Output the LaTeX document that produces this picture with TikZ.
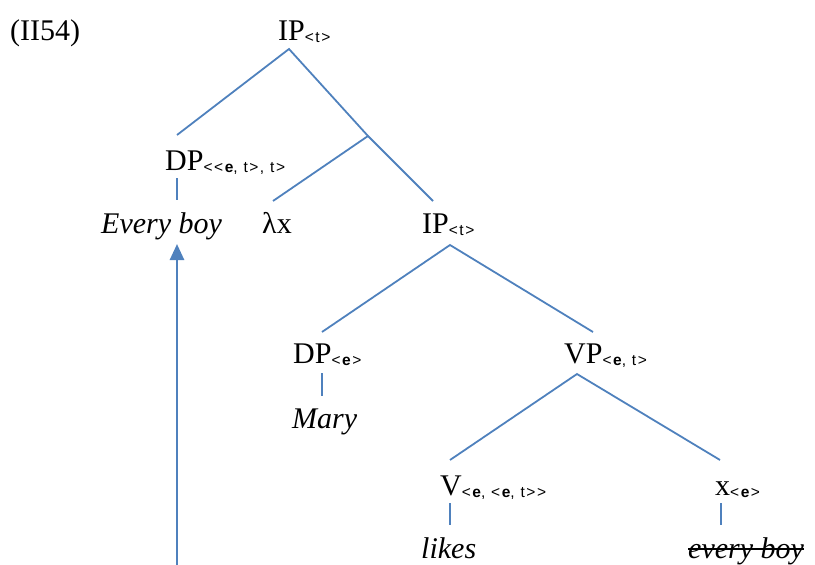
\documentclass[tikz,border=0pt]{standalone}
\usepackage{fontspec}
\setmainfont{Liberation Serif}
\newfontfamily\subf{Liberation Sans}
\usetikzlibrary{arrows.meta}
\definecolor{treeblue}{RGB}{79,129,189}
\newcommand\sbt[1]{\raisebox{-2pt}{\subf\fontsize{15.5}{15.5}\selectfont\addfontfeature{LetterSpace=10}#1}}
\newcommand\bE{\textbf{e}}
\begin{document}
\begin{tikzpicture}[x=1pt,y=-1pt,
  lab/.style={anchor=base west,inner sep=0pt,font=\fontsize{30}{30}\selectfont},
  branch/.style={treeblue,line width=1.8pt},
  move/.style={treeblue,line width=2.6pt,-{Triangle[width=14pt,length=16pt]}}]
\useasboundingbox (0,0) rectangle (815,565);
% labels
\node[lab] (ex) at (10,40) {(II54)};
\node[lab] (ip1) at (278,40) {IP\sbt{<t>}};
\node[lab] (dp1) at (165,170) {DP\sbt{<<\bE, t>, t>}};
\node[lab] (eb) at (101,233) {\itshape Every boy};
\node[lab] (lx) at (262,233) {λx};
\node[lab] (ip2) at (422,233) {IP\sbt{<t>}};
\node[lab] (dp2) at (293,363) {DP\sbt{<\bE>}};
\node[lab] (mary) at (292,428) {\itshape Mary};
\node[lab] (vp) at (564,363) {VP\sbt{<\bE, t>}};
\node[lab] (v) at (440,495) {V\sbt{<\bE, <\bE, t>>}};
\node[lab] (xe) at (715,495) {x\sbt{<\bE>}};
\node[lab] (likes) at (421,558) {\itshape likes};
\node[lab] (eb2) at (688,558) {\itshape every boy};
% branch points
\coordinate (a1) at (289,49);
\coordinate (b1) at (177,135);
\coordinate (m1) at (368,136);
\coordinate (c1) at (433,201);
\coordinate (l1) at (273,201);
\coordinate (d1t) at (177,178);
\coordinate (d1b) at (177,200);
\coordinate (a2) at (450,245);
\coordinate (b2) at (322,332);
\coordinate (c2) at (593,332);
\coordinate (d2t) at (322,373);
\coordinate (d2b) at (322,396);
\coordinate (a3) at (577,374);
\coordinate (b3) at (450,460);
\coordinate (c3) at (720,460);
\coordinate (vt) at (450,503);
\coordinate (vb) at (450,525);
\coordinate (xt) at (721,503);
\coordinate (xb) at (721,525);
\coordinate (tail) at (177,566);
\coordinate (tip) at (177,244);
% branches
\draw[branch] (b1) -- (a1) -- (m1) -- (c1);
\draw[branch] (m1) -- (l1);
\draw[branch] (d1t) -- (d1b);
\draw[branch] (b2) -- (a2) -- (c2);
\draw[branch] (d2t) -- (d2b);
\draw[branch] (b3) -- (a3) -- (c3);
\draw[branch] (vt) -- (vb);
\draw[branch] (xt) -- (xb);
% movement arrow
\draw[move] (tail) -- (tip);
% strike-through
\draw[black,line width=1.6pt] ([yshift=9pt]eb2.base west) -- ([yshift=9pt]eb2.base east);
\end{tikzpicture}
\end{document}
